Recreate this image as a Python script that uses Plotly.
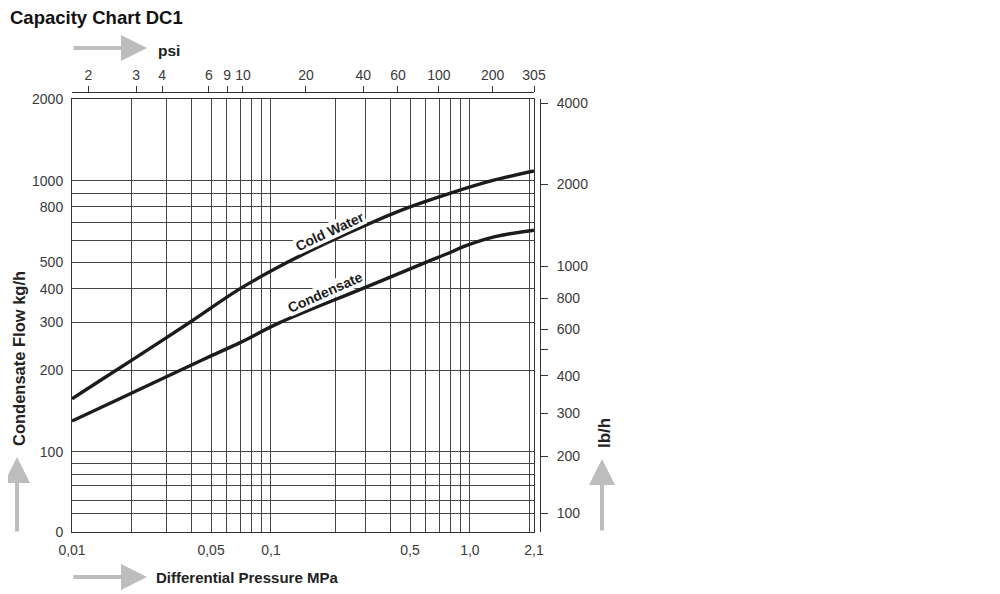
import math
import plotly.graph_objects as go

# --- values ---
# Cold Water curve (MPa, kg/h)
cw_mpa = [0.01, 0.0138, 0.02, 0.039, 0.07, 0.121, 0.189, 0.32, 0.5, 0.8, 1.29, 2.1]
cw_kgh = [157, 183, 218, 300, 400, 500, 588, 700, 800, 900, 1000, 1086]

# Condensate curve (MPa, kg/h)
cond_mpa = [0.01, 0.02, 0.035, 0.05, 0.07, 0.11, 0.288, 0.6, 0.78, 0.95, 1.34, 2.1]
cond_kgh = [130, 165, 200, 226, 253, 299, 400, 500, 540, 575, 622, 657]

# bottom axis: grid lines and labels (MPa)
mpa_grid = [0.02, 0.03, 0.04, 0.05, 0.06, 0.07, 0.08, 0.09, 0.1, 0.21,
            0.3, 0.4, 0.5, 0.6, 0.7, 0.8, 0.9, 1.0, 2.0, 2.1]
mpa_label_vals = [0.01, 0.05, 0.1, 0.5, 1.0, 2.1]
mpa_label_text = ['0,01', '0,05', '0,1', '0,5', '1,0', '2,1']

# top axis: psi labels and where they sit on the MPa scale
psi_text = ['2', '3', '4', '6', '9', '10', '20', '40', '60', '100', '200', '305']
psi_at_mpa = [0.0121, 0.021, 0.0284, 0.0488, 0.0603, 0.0723, 0.150, 0.291, 0.435, 0.699, 1.30, 2.1]

# left axis: grid lines and labels (kg/h)
kg_grid = [2000, 1000, 900, 800, 700, 600, 500, 400, 300, 200, 100, 91, 82.5, 75, 66.5, 59.4]
kg_label_vals = [2000, 1000, 800, 500, 400, 300, 200, 100, 50.7]
kg_label_text = ['2000', '1000', '800', '500', '400', '300', '200', '100', '0']

# right axis: lb/h labels and where they sit
lb_text = ['4000', '2000', '1000', '800', '600', '', '400', '300', '200', '100']
lb_at = [4000, 2010, 1000, 765, 587, 496, 396, 288, 200, 123]

kg_min, kg_max = 50.7, 2000
lb_min, lb_max = 105.1, 4146.7
mpa_min, mpa_max = 0.01, 2.1

# merge grid + label ticks
xt_vals = sorted(set(mpa_grid + mpa_label_vals))
xt_text = [mpa_label_text[mpa_label_vals.index(v)] if v in mpa_label_vals else '' for v in xt_vals]
yt_vals = sorted(set(kg_grid + kg_label_vals))
yt_text = [kg_label_text[kg_label_vals.index(v)] if v in kg_label_vals else '' for v in yt_vals]

LINE = '#1c1c1c'
GRID = '#454545'
TICKFONT = dict(family='Liberation Sans, Arial, sans-serif', size=14, color='#3a3a3a')
BOLD = 'Liberation Sans, Arial, sans-serif'
ARROW = '#bdbdbd'

fig = go.Figure()
fig.add_trace(go.Scatter(x=cw_mpa, y=cw_kgh, mode='lines', line=dict(color=LINE, width=3.4, shape='spline'),
                         showlegend=False, hoverinfo='skip'))
fig.add_trace(go.Scatter(x=cond_mpa, y=cond_kgh, mode='lines', line=dict(color=LINE, width=3.4, shape='spline'),
                         showlegend=False, hoverinfo='skip'))
# empty trace so the psi and lb/h axes get drawn
fig.add_trace(go.Scatter(x=[], y=[], xaxis='x2', yaxis='y2', showlegend=False, hoverinfo='skip'))

# the page body adds an 8px offset, so margins are 8px smaller on left/top
fig.update_layout(
    width=1000, height=594,
    margin=dict(l=64, r=468, t=84, b=70),
    paper_bgcolor='white', plot_bgcolor='white',
    xaxis=dict(type='log', range=[math.log10(mpa_min), math.log10(mpa_max)], domain=[0, 462 / 468],
               tickmode='array', tickvals=xt_vals, ticktext=xt_text, ticks='', tickfont=TICKFONT,
               ticklabelstandoff=5, showgrid=True, gridcolor=GRID, gridwidth=1,
               showline=True, linecolor='#333', linewidth=1, mirror=True, zeroline=False),
    xaxis2=dict(type='log', range=[math.log10(mpa_min), math.log10(mpa_max)], overlaying='x', side='top',
                anchor='free', position=1, domain=[0, 462 / 468], tickmode='array', tickvals=psi_at_mpa,
                ticktext=psi_text, ticks='outside', ticklen=6, tickcolor='#333', tickfont=TICKFONT,
                showgrid=False, showline=True, linecolor='#333', linewidth=1, zeroline=False),
    yaxis=dict(type='log', range=[math.log10(kg_min), math.log10(kg_max)], domain=[0, 433 / 440],
               tickmode='array', tickvals=yt_vals, ticktext=yt_text, ticks='', tickfont=TICKFONT,
               ticklabelstandoff=5, showgrid=True, gridcolor=GRID, gridwidth=1,
               showline=True, linecolor='#333', linewidth=1, mirror=True, zeroline=False),
    yaxis2=dict(type='log', range=[math.log10(lb_min), math.log10(lb_max)], overlaying='y', side='right',
                anchor='free', position=1, tickmode='array', tickvals=lb_at, ticktext=lb_text,
                ticks='outside', ticklen=7, tickcolor='#333', tickfont=TICKFONT, ticklabelstandoff=6,
                showgrid=False, showline=True, linecolor='#333', linewidth=1, zeroline=False),
)

# screen pixel -> paper helpers (paper spans x 72..540, y 92..532 on screen)
def px(x):
    return (x - 72) / 468.0

def py(y):
    return (532 - y) / 440.0

# curve labels
fig.add_annotation(x=math.log10(0.199), y=math.log10(650), xref='x', yref='y', text='<b>Cold Water</b>',
                   showarrow=False, textangle=-25, font=dict(family=BOLD, size=14, color='#1c1c1c'),
                   bgcolor='white', borderpad=0)
fig.add_annotation(x=math.log10(0.188), y=math.log10(388), xref='x', yref='y', text='<b>Condensate</b>',
                   showarrow=False, textangle=-24, font=dict(family=BOLD, size=14, color='#1c1c1c'),
                   bgcolor='white', borderpad=0)

# title and axis titles
fig.add_annotation(x=px(8), y=py(18), xref='paper', yref='paper', xanchor='left', yanchor='middle',
                   text='<b>Capacity Chart DC1</b>', showarrow=False,
                   font=dict(family=BOLD, size=18.5, color='#111'))
fig.add_annotation(x=px(156), y=py(51), xref='paper', yref='paper', xanchor='left', yanchor='middle',
                   text='<b>psi</b>', showarrow=False, font=dict(family=BOLD, size=15.5, color='#222'))
fig.add_annotation(x=px(154), y=py(577), xref='paper', yref='paper', xanchor='left', yanchor='middle',
                   text='<b>Differential Pressure MPa</b>', showarrow=False,
                   font=dict(family=BOLD, size=15, color='#222'))
fig.add_annotation(x=px(19), y=py(359), xref='paper', yref='paper', xanchor='center', yanchor='middle',
                   text='<b>Condensate Flow kg/h</b>', textangle=-90, showarrow=False,
                   font=dict(family=BOLD, size=16.5, color='#222'))
fig.add_annotation(x=px(604), y=py(433), xref='paper', yref='paper', xanchor='center', yanchor='middle',
                   text='<b>lb/h</b>', textangle=-90, showarrow=False,
                   font=dict(family=BOLD, size=17, color='#222'))

# grey arrows
for hx, hy, ax, ay in [(147, 48, -75, 0), (147, 577, -75, 0), (17, 457, 0, 76), (602, 459, 0, 73)]:
    fig.add_annotation(x=px(hx), y=py(hy), xref='paper', yref='paper', text='', showarrow=True,
                       ax=ax, ay=ay, arrowhead=2, arrowsize=1.3, arrowwidth=4, arrowcolor=ARROW)

fig.write_html("out.html")
